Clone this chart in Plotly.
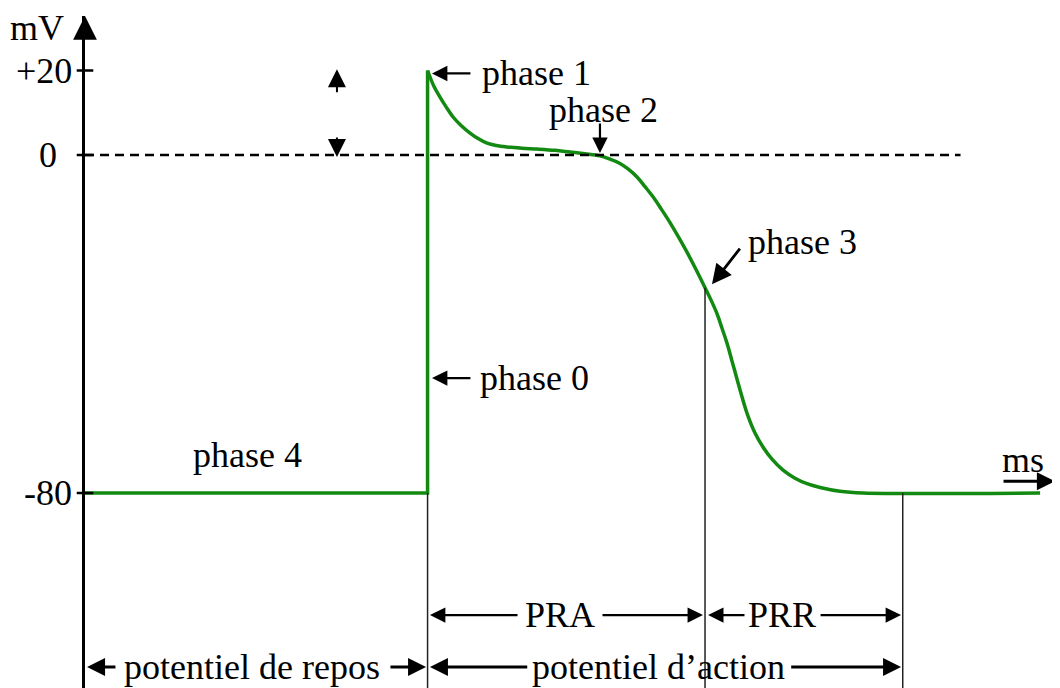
import plotly.graph_objects as go

# ---- data (time in ms, potential in mV) ----
rest_t = [0, 201.5, 201.5]
rest_v = [-80, -80, 20]

ap_t = [201.5, 205.3, 208.8, 212.4, 216.5, 221.2, 226.5, 231.2, 236.5, 241.8, 248.2,
        257.1, 265.9, 276.5, 285.3, 294.1, 302.9, 308.8, 314.7, 319.4, 324.7, 329.4,
        334.1, 338.8, 344.1, 348.8, 354.1, 359.4, 364.7, 368.2, 371.8, 374.7, 377.6,
        380.6, 383.5, 386.5, 390.0, 394.1, 398.8, 404.1, 410.6, 417.6, 424.7, 432.4,
        444.1, 457.6, 561.8]
ap_v = [20, 16.2, 13.7, 11.4, 9.0, 7.0, 5.2, 3.9, 2.8, 2.25, 1.9,
        1.6, 1.4, 1.1, 0.7, 0.3, -0.2, -1.0, -2.0, -3.3, -5.2, -7.5,
        -9.9, -12.7, -16.0, -19.2, -23.0, -27.1, -31.4, -34.3, -37.6, -41.0, -44.5,
        -48.8, -53.0, -57.3, -61.8, -65.8, -69.1, -72.0, -74.6, -76.5, -77.8, -78.7,
        -79.6, -80, -80]

tick_vals = [20, 0, -80]
tick_text = ["+20", "0", "-80"]

phase0_t = 201.5
pra_end_t = 364.7
pra_end_v = -31.4
prr_end_t = 481

GREEN = "#128a12"
FONT = "Liberation Serif"
FS = 36

fig = go.Figure()
fig.add_trace(go.Scatter(x=rest_t, y=rest_v, mode="lines",
                         line=dict(color=GREEN, width=3.5), hoverinfo="skip"))
fig.add_trace(go.Scatter(x=ap_t, y=ap_v, mode="lines",
                         line=dict(color=GREEN, width=3.5, shape="spline", smoothing=1.0),
                         hoverinfo="skip"))

shapes = []
# dashed zero line
shapes.append(dict(type="line", xref="x", yref="y", x0=0, x1=515, y0=0, y1=0,
                   line=dict(color="black", width=2.5, dash="9px,6px")))
# vertical guide lines
for xv, y0 in [(phase0_t, -80), (pra_end_t, pra_end_v), (prr_end_t, -80)]:
    shapes.append(dict(type="line", xref="x", yref="y", x0=xv, x1=xv, y0=y0, y1=-130,
                       line=dict(color="#222222", width=1.5)))
# tick marks crossing the axis
for tv in tick_vals:
    shapes.append(dict(type="line", xref="paper", yref="y", x0=-0.0085, x1=0.0085,
                       y0=tv, y1=tv, line=dict(color="black", width=2.5)))

ann = []
def text(x, y, s, xanchor="center", xref="x", xshift=0):
    ann.append(dict(x=x, y=y, xref=xref, yref="y", text=s, showarrow=False,
                    xanchor=xanchor, yanchor="middle", xshift=xshift,
                    font=dict(family=FONT, size=FS, color="black")))

def arrow(x, y, ax, ay, width=2.2, size=1.4, head=2):
    ann.append(dict(x=x, y=y, ax=ax, ay=ay, xref="x", yref="y", axref="x", ayref="y",
                    text="", showarrow=True, arrowhead=head, arrowsize=size,
                    arrowwidth=width, arrowcolor="black"))

# axis labels / tick labels
for tv, tt in zip(tick_vals, tick_text):
    text(0, tv, tt, xanchor="right", xref="paper", xshift=(-26 if tt == "0" else -11))
text(0, 30.1, "mV", xref="paper", xshift=-48)

# y-axis arrow head
ann.append(dict(x=0, y=32.9, xref="paper", yref="y", ax=0, ay=24, text="",
                showarrow=True, arrowhead=2, arrowsize=1.9, arrowwidth=2.5,
                arrowcolor="black"))

# phase labels
text(232.4, 19.3, "phase 1", xanchor="left")
arrow(204.1, 19.3, 227.6, 19.3)
text(304.7, 10.7, "phase 2")
arrow(302.9, 0.5, 302.9, 7.8)
text(388.8, -20.6, "phase 3", xanchor="left")
arrow(368.8, -30.6, 385.9, -21.8, width=2.8)
text(231.2, -52.8, "phase 0", xanchor="left")
arrow(204.1, -52.8, 227.6, -52.8)
text(95.3, -71.0, "phase 4")

# ms axis arrow
text(551.8, -72.2, "ms")
arrow(570.5, -77.2, 539.4, -77.2, width=3, size=1.2)

# amplitude double arrow
arrow(148.2, 20.3, 148.2, 14.5, width=2, size=1.8)
arrow(148.2, -0.5, 148.2, 4.5, width=2, size=1.8)

# PRA / PRR
text(279.4, -108.9, "PRA")
arrow(202.9, -108.9, 255.3, -108.9)
arrow(363.5, -108.9, 303.5, -108.9)
text(410, -108.9, "PRR")
arrow(366.5, -108.9, 388.8, -108.9)
arrow(480, -108.9, 431.8, -108.9)

# potentiel de repos / d'action
text(98.2, -121.2, "potentiel de repos")
arrow(1.2, -121.2, 18.8, -121.2, width=3, size=1.2)
arrow(200.6, -121.2, 178.8, -121.2, width=3, size=1.2)
text(337.6, -121.2, "potentiel d\u2019action")
arrow(202.9, -121.2, 261.0, -121.2, width=3, size=1.2)
arrow(480, -121.2, 414.5, -121.2, width=3, size=1.2)

# page body has an 8px margin: figure is sized so the chart fills the 1060x688 window
fig.update_layout(
    width=1052, height=680,
    margin=dict(l=77, r=0, t=8, b=0),
    paper_bgcolor="white", plot_bgcolor="white",
    showlegend=False,
    shapes=shapes, annotations=ann,
    xaxis=dict(range=[0, 573.5], showline=False, showgrid=False, zeroline=False,
               showticklabels=False, ticks=""),
    yaxis=dict(range=[-126.15, 32.9], showline=True, linewidth=3, linecolor="black",
               showgrid=False, zeroline=False, showticklabels=False, ticks=""),
)

fig.write_html("out.html")
